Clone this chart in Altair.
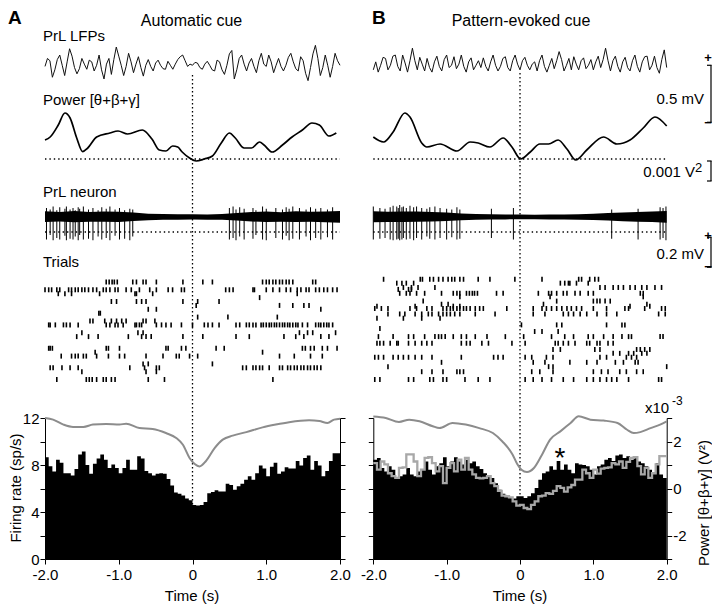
import altair as alt
import numpy as np
import pandas as pd

W, H = 704, 597
FONT = "Liberation Sans"

# ---- pixel layout of sub-plots (chart-local coordinates) ----
XA = [37, 332]
XB = [365.3, 658.7]
Y_LFP = [89.2, 20.8]
Y_POW = [151, 101]
Y_NEU = [239, 194]
Y_RAS = [274, 371.5]
Y_HIST = [551, 410]

LFP_DOM = [-300, 300]   # uV
POW_DOM = [0, 2.5]      # x1e-3 V^2 above baseline
NEU_DOM = [-200, 100]   # uV
RAS_DOM = [0, 25]       # trial row
RATE_DOM = [0, 12]      # sp/s
PWR_DOM = [-3, 3]       # x1e-3 V^2

# ---------------- data ----------------
lfp_a = [-30, 40, 20, -125, -60, 30, 70, -20, -110, 10,
         125, 60, -40, -95, -50, 40, -10, -55, 25, 10,
         -70, -20, 70, -60, -140, -10, 40, -100, 30, 140,
         60, -20, -110, -30, 85, 10, -85, -10, 55, -40,
         -115, -20, 30, -30, -70, 0, 25, -20, -50, -55,
         15, -20, -55, -10, 30, 55, 70, 20, -30, -10,
         -20, 5, 0, -40, -55, -10, 15, -20, -60, -70,
         25, 10, -60, -100, -20, 80, 110, -140, -60, 40,
         70, -10, -70, 0, 40, -30, -85, 20, 85, -10,
         -30, 70, 10, -85, -20, 40, -30, -70, -20, 50,
         85, 10, -50, -70, 55, 20, -90, -155, -40, 80,
         155, 40, -110, -40, 70, -20, -125, -30, 85, 20, -20]
lfp_b = [-60, 10, -80, -20, 50, 40, -60, -20, 60, 70,
         -30, -70, 70, 0, -80, 20, 130, 20, -60, 50,
         -10, -70, 40, -40, -80, 10, 60, -30, -70, 30,
         70, -40, -20, 55, -50, -10, 70, -30, -80, 10,
         45, -60, -20, 20, -40, 45, -30, -70, 10, 70,
         -20, -70, -30, 40, 55, -40, -70, 20, 70, -10,
         -60, 20, 50, -20, -60, -10, 10, -70, 20, 70,
         -30, -80, -20, 40, -50, 20, 100, 30, -70, -20,
         40, -60, 55, -10, -60, 20, 45, -50, -20, 30,
         -60, 10, 60, -40, 30, 130, 20, -70, 20, 60,
         -30, -80, 10, 50, -40, -70, 20, 70, -30, -80,
         10, 55, 60, -60, -20, 60, -40, -90, 30, 115, -40]

pow_a_t = [-2.0, -1.93, -1.82, -1.73, -1.66, -1.57, -1.49, -1.42, -1.30, -1.12,
           -1.01, -0.88, -0.68, -0.55, -0.45, -0.36, -0.27, -0.20, -0.14, -0.04,
           0.05, 0.16, 0.27, 0.39, 0.50, 0.58, 0.70, 0.80, 0.91, 0.97,
           1.08, 1.22, 1.35, 1.49, 1.62, 1.72, 1.85, 1.95]
pow_a_v = [0.95, 1.1, 1.7, 2.3, 2.05, 1.05, 0.37, 0.55, 1.1, 1.3,
           1.4, 1.25, 1.45, 1.0, 0.45, 0.4, 0.65, 0.6, 0.35, 0.05,
           -0.1, 0.0, 0.15, 0.8, 1.3, 1.05, 0.55, 0.55, 0.85, 0.7,
           0.35, 0.7, 1.1, 1.45, 1.8, 1.7, 1.15, 1.3]
pow_b_t = [-2.0, -1.86, -1.73, -1.57, -1.50, -1.34, -1.27, -1.09, -0.86, -0.68,
           -0.57, -0.41, -0.23, -0.11, 0.01, 0.14, 0.27, 0.39, 0.52, 0.64,
           0.76, 0.91, 1.14, 1.32, 1.50, 1.68, 1.84, 2.0]
pow_b_v = [1.1, 0.85, 1.35, 2.3, 2.1, 0.8, 0.6, 0.75, 0.4, 0.85,
           0.8, 0.6, 1.05, 0.6, 0.0, 0.35, 0.75, 0.75, 0.95, 0.5,
           -0.05, 0.45, 1.1, 0.75, 0.95, 1.55, 2.1, 1.65]

band_t = [-2.0, -1.8, -1.6, -1.4, -1.2, -1.0, -0.8, -0.6, -0.4, -0.2, 0.0,
          0.2, 0.4, 0.6, 0.8, 1.0, 1.2, 1.4, 1.6, 1.8, 2.0]
band_a_up = [38, 34, 40, 33, 37, 35, 30, 22, 20, 18, 19, 17, 20, 26, 33, 36, 32, 38, 35, 37, 40]
band_a_lo = [-34, -30, -35, -32, -31, -33, -27, -21, -19, -18, -17, -18, -19, -24, -30, -33, -31, -34, -32, -35, -38]
band_b_up = [38, 35, 37, 36, 33, 30, 24, 20, 18, 17, 16, 15, 16, 17, 19, 22, 26, 30, 34, 36, 40]
band_b_lo = [-35, -33, -34, -32, -30, -27, -22, -19, -17, -16, -15, -15, -16, -16, -18, -20, -24, -28, -31, -34, -38]

spk_a_t = [-1.98, -1.93, -1.89, -1.84, -1.80, -1.73, -1.71, -1.66, -1.62, -1.59,
           -1.55, -1.53, -1.48, -1.41, -1.35, -1.28, -1.23, -1.17, -1.12, -1.05,
           -0.99, -0.92, -0.85, -0.81, 0.50, 0.55, 0.59, 0.64, 0.70, 0.82,
           0.86, 0.95, 1.00, 1.13, 1.22, 1.27, 1.31, 1.36, 1.45, 1.54,
           1.60, 1.67, 1.74, 1.83, 1.90]
spk_a_down = [-150, -120, -155, -140, -150, -125, -155, -145, -150, -130,
              -155, -120, -150, -145, -155, -130, -150, -140, -155, -125,
              -150, -145, -155, -130, -150, -140, -155, -130, -150, -145,
              -120, -150, -155, -140, -150, -125, -155, -145, -150, -130,
              -155, -140, -150, -135, -150]
spk_a_up = [60, 50, 70, 45, 65, 55, 70, 50, 60, 45,
            65, 55, 70, 50, 60, 45, 65, 55, 70, 50,
            60, 45, 55, 50, 60, 70, 50, 65, 55, 60,
            45, 70, 55, 60, 50, 65, 55, 70, 60, 50,
            65, 55, 60, 50, 65]
spk_b_t = [-2.0, -1.91, -1.84, -1.77, -1.73, -1.68, -1.66, -1.64, -1.61, -1.59,
           -1.55, -1.50, -1.45, -1.41, -1.34, -1.27, -1.23, -1.16, -1.09, -1.00,
           -0.93, -0.86, -0.82, -0.39, -0.09, 1.25, 1.61, 1.91, 1.95, 1.99]
spk_b_down = [-150, -145, -140, -150, -155, -150, -145, -155, -150, -140,
              -150, -145, -155, -140, -150, -130, -145, -150, -140, -150,
              -135, -150, -145, -140, -150, -145, -150, -150, -140, -155]
spk_b_up = [70, 60, 55, 65, 75, 70, 60, 80, 65, 70,
            60, 75, 65, 70, 60, 55, 65, 70, 60, 55,
            50, 65, 50, 55, 60, 50, 55, 65, 60, 70]

raster_a = {
    0: [-1.17, -1.13, -1.09, -1.06, -1.02, -0.81, -0.76, -0.67, -0.63, -0.49, -0.13, 0.14, 0.27,
        0.95, 1.0, 1.04, 1.09, 1.13, 1.18, 1.22, 1.27, 1.31, 1.36, 1.63, 1.67],
    2: [-2.0, -1.95, -1.91, -1.84, -1.80, -1.68, -1.64, -1.59, -1.55, -1.50, -1.46, -1.41, -1.35,
        -1.30, -1.21, -1.17, -1.12, -1.05, -1.01, -0.90, -0.83, -0.72, -0.58, -0.49, -0.33, -0.27,
        -0.15, -0.11, 0.45, 0.5, 0.55, 0.82, 0.84, 1.0, 1.09, 1.18, 1.27, 1.33, 1.42, 1.47, 1.54,
        1.58, 1.67, 1.72, 1.78, 1.83, 1.9, 1.96],
    3: [-1.82, -1.73, -1.64, -1.26, -0.78, -0.76, -0.54, 1.42],
    4: [0.91],
    5: [-1.1, -1.03, -0.76, -0.69, -0.63, -0.13, 0.07, 0.36],
    6: [0.05, 1.18, 1.36, 1.51, 1.58],
    7: [-0.6, -0.49, 1.74],
    8: [-1.27, -1.25],
    9: [0.07, 0.48, 1.15],
    10: [-1.39, -1.35, -1.19, -1.1, -1.03, -0.96, -0.9, -0.67, -0.63, -0.51],
    11: [-1.95, -1.93, -1.86, -1.75, -1.71, -1.66, -1.55, -1.17, -1.12, -1.05, -1.01, -0.94, -0.78,
         -0.76, -0.72, -0.69, -0.49, -0.42, -0.36, -0.29, -0.15, 0.0, 0.16, 0.21, 0.27, 0.36, 0.59,
         0.64, 0.73, 0.77, 0.82, 0.86, 0.93, 0.96, 1.0, 1.04, 1.07, 1.11, 1.14, 1.18, 1.22, 1.25,
         1.29, 1.32, 1.36, 1.4, 1.43, 1.49, 1.56, 1.67, 1.71, 1.74, 1.78, 1.82, 1.85, 1.9],
    13: [-1.5, -0.74, -0.67, 1.45, 1.56, 1.63, 1.94],
    14: [-1.57, -1.41, -1.28, -0.87, -0.69, -0.63, -0.56, -0.13, 0.14, 0.59, 0.77, 1.24, 1.4, 1.51,
         1.74, 1.85],
    17: [-1.95, -1.93, -1.9, -1.17, -1.14, -0.99, -0.36, -0.33, -0.15, -0.09, 0.32, 0.43, 1.49, 1.53,
         1.6, 1.65, 1.76, 1.83, 1.96],
    18: [-1.32, 0.95],
    19: [-1.78, -1.64, -1.59, -1.55, -1.48, -1.44, -1.3, -1.14, -0.99, -0.92, -0.63, -0.4, -0.22,
         -0.18, -0.04, 0.07, 1.18, 1.38, 1.6, 1.76],
    21: [-0.67, -0.6, 0.27],
    22: [-1.93, -1.89, -1.77, -1.66, -1.55, -0.85, -0.65, -0.49, -0.45, 0.68, 0.73, 0.82, 0.86, 0.91,
         0.95, 1.04, 1.18, 1.22, 1.29, 1.33, 1.38, 1.42, 1.47, 1.51, 1.56, 1.6, 1.65, 1.69, 1.74],
    23: [-1.5, -0.63, -0.49],
    25: [-1.84, -1.44, -1.4, -1.36, -1.3, -1.21, -1.17, -1.1, -1.05, -0.6, -0.38, 1.09],
}
raster_b = {
    -0.7: [-1.86, -1.36, -1.33, -1.23, -1.18, -1.11, -1.05, -0.98, -0.93, -0.89, -0.82, -0.77, -0.57,
           -0.41, -0.07, 0.30, 0.80, 0.84, 0.95, 1.02, 1.07],
    0.3: [-1.68, -1.61, -1.55, -1.45, 0.55, 0.61, 0.66, 0.68, 0.77, 0.93],
    1.4: [-1.59, -1.48, -1.39, -1.16, 1.09, 1.16, 1.27, 1.34, 1.41, 1.50, 1.57, 1.66, 1.73, 1.84, 1.93],
    1.9: [-1.66, -1.52, -1.48],
    2.9: [-1.64, -1.55, -1.50, -1.41, -1.30, -1.07, -0.91, -0.86, -0.82, -0.73, -0.69, -0.65, -0.62,
          -0.58, -0.32, -0.23, 0.25, 0.39, 0.43, 0.50, 0.59, 0.64, 0.75, 0.82, 0.93, 1.00, 1.64, 1.68],
    3.8: [-0.82, 0.41, 1.68],
    4.9: [-1.32, 0.50, 1.00, 1.05, 1.09, 1.16, 1.23],
    5.7: [-1.07, -0.98, 0.32, 1.73],
    6.2: [-1.95, -1.43, -0.91, -0.82, 1.50, 1.77],
    6.8: [-1.98, -1.89, -1.80, -1.50, -1.41, -1.27, -1.20, -1.05, -1.00, -0.95, -0.91, -0.86, -0.82,
          -0.77, -0.73, -0.68, -0.61, -0.55, -0.50, -0.18, 0.18, 0.30, 0.36, 0.43, 0.50, 0.57, 0.64,
          0.70, 0.77, 0.84, 1.00, 1.18, 1.43, 1.48, 1.70, 1.93, 1.98],
    8.2: [-1.80, -1.64, -1.57, -1.43, -1.34, -1.25, -1.20, -1.11, -1.05, -1.00, -0.95, -0.89, -0.82,
          -0.61, -0.34, 0.18, 0.34, 0.59, 0.66, 0.73, 0.82, 0.91, 1.05, 1.18, 1.32, 1.89, 1.98],
    9.3: [-1.95, -1.59, -1.34, -1.09],
    11.0: [0.02, 0.50, 0.57, 1.18, 1.39, 1.43],
    11.9: [-1.91],
    12.7: [0.20, 0.30, 0.52],
    14.0: [-1.93, -1.73, -1.52, -1.45, -1.30, -1.16, -1.11, -1.07, -1.02, -0.91, -0.80, -0.73, -0.61,
           -0.45, -0.20, 0.05, 0.43, 0.61, 0.73, 0.93, 1.00, 1.14, 1.27, 1.39, 1.48, 1.52, 1.91, 1.95],
    15.7: [-1.95, -1.91, -1.86, -1.77, -1.68, -1.66, -1.52, -1.43, -1.34, -1.27, -1.20, -0.80, -0.73,
           -0.68, -0.52, -0.43, -0.11, 0.07, 0.48, 0.52, 0.59, 0.66, 0.75, 0.91, 0.95, 1.05, 1.09,
           1.20, 1.27],
    17.3: [0.45, 0.55, 1.02, 1.09, 1.59, 1.64, 1.70, 1.77],
    18.3: [1.27, 1.36, 1.48, 1.55, 1.66, 1.73],
    19.3: [-1.98, -1.93, -1.86, -1.73, -1.66, -1.59, -1.52, -1.43, -1.34, -1.20, -0.80, -0.36, -0.30,
           -0.23, 0.07, 0.16, 0.36, 0.45, 1.09, 1.18, 1.45, 1.52, 1.59],
    20.6: [-1.07, 0.18, 0.34, 0.68, 0.91, 1.05, 1.30, 1.41, 1.57, 1.61],
    21.7: [-1.80, 0.39, 0.45, 2.00],
    23.0: [-1.34, -1.20, -1.05, -0.86, -0.82, -0.77, 0.16, 0.27, 0.45, 1.00, 1.11, 1.20, 1.36, 1.45,
           1.59, 1.68],
    25.0: [-1.98, -1.91, -1.52, -1.45, -1.23, -1.18, -1.05, -1.00, -0.75, -0.57, -0.41, 0.07, 0.18,
           0.30, 0.43, 0.59, 0.73, 0.91, 1.00, 1.09, 1.18, 1.25, 1.32, 1.48, 1.89, 1.93],
}

rate_a = [8.65, 7.9, 7.45, 8.45, 8.2, 7.3, 7.3, 7.1, 7.65, 8.9,
          9.15, 8.0, 7.25, 8.1, 8.55, 8.9, 8.45, 7.75, 8.05, 7.75,
          7.3, 7.75, 8.45, 7.6, 7.6, 8.75, 8.55, 7.5, 7.3, 7.1,
          7.25, 7.3, 7.25, 6.8, 6.25, 5.65, 5.55, 5.4, 5.15, 5.0,
          4.6, 4.55, 4.6, 4.85, 5.6, 5.7, 5.85, 5.75, 5.75, 6.4,
          6.3, 5.9, 6.2, 6.4, 6.75, 7.05, 6.75, 7.3, 7.95, 7.7,
          7.05, 7.85, 8.2, 7.25, 7.45, 7.8, 7.7, 7.7, 8.35, 7.95,
          8.6, 8.8, 7.6, 8.35, 7.95, 7.05, 7.5, 8.35, 9.0, 9.0]
rate_b = [8.45, 8.6, 7.75, 7.45, 7.9, 7.6, 6.9, 7.05, 7.2, 7.75,
          7.2, 7.05, 7.45, 7.6, 8.3, 7.6, 7.2, 7.9, 8.15, 8.65,
          7.9, 8.3, 8.65, 8.3, 8.05, 8.45, 8.15, 8.3, 7.9, 7.65,
          7.3, 7.05, 6.9, 6.45, 5.9, 5.55, 5.35, 5.2, 5.15, 5.35,
          5.35, 5.2, 5.35, 5.6, 6.05, 6.75, 7.3, 7.45, 7.9, 7.6,
          8.35, 7.6, 8.05, 7.6, 7.3, 8.15, 8.05, 8.0, 7.9, 7.6,
          7.2, 7.9, 8.05, 8.45, 8.6, 8.35, 8.8, 8.9, 8.6, 8.75,
          8.45, 8.6, 8.3, 8.15, 7.9, 7.6, 7.3, 8.15, 7.2, 6.9]
step_b = [1.08, 0.8, 1.15, 1.03, 0.65, 0.53, 0.45, 0.88, 0.9, 1.45,
          1.45, 1.15, 0.53, 0.8, 1.3, 1.33, 1.08, 0.73, 0.95, 0.23,
          0.88, 1.08, 0.73, 1.23, 0.8, 1.3, 0.8, 0.6, 0.45, 0.43,
          0.45, 0.53, 0.23, 0.1, -0.1, -0.3, -0.33, -0.38, -0.55, -0.73,
          -0.7, -0.83, -0.88, -0.7, -0.55, -0.33, -0.3, -0.2, -0.23, -0.1,
          0.1, 0.03, -0.13, 0.05, 0.15, 0.38, 0.38, 0.8, 0.65, 0.45,
          0.8, 0.63, 0.85, 0.88, 0.9, 1.08, 1.03, 1.15, 0.88, 1.13,
          1.3, 1.33, 0.95, 0.6, 0.88, 0.45, 0.65, 1.03, 1.38, 1.38]

gray_a_t = [-2.0, -1.89, -1.75, -1.62, -1.48, -1.35, -1.17, -0.99, -0.90, -0.72,
            -0.54, -0.36, -0.22, -0.13, -0.04, 0.03, 0.095, 0.18, 0.30, 0.41,
            0.545, 0.73, 0.95, 1.13, 1.31, 1.58, 1.72, 1.83, 1.92, 2.0]
gray_a_v = [3.0, 2.93, 2.72, 2.62, 2.62, 2.72, 2.75, 2.72, 2.76, 2.57,
            2.53, 2.36, 2.15, 1.86, 1.3, 1.04, 0.94, 1.16, 1.72, 2.08,
            2.25, 2.4, 2.6, 2.72, 2.82, 2.9, 2.87, 2.79, 2.93, 2.97]
gray_b_t = [-2.0, -1.83, -1.65, -1.51, -1.37, -1.19, -1.10, -0.92, -0.74, -0.555,
            -0.37, -0.24, -0.10, -0.04, 0.02, 0.095, 0.19, 0.30, 0.41, 0.55,
            0.69, 0.80, 0.96, 1.14, 1.33, 1.46, 1.55, 1.64, 1.78, 1.91, 2.0]
gray_b_v = [3.06, 3.0, 2.83, 2.93, 2.86, 2.65, 2.57, 2.79, 2.72, 2.57,
            2.36, 2.0, 1.44, 1.05, 0.8, 0.7, 0.87, 1.44, 2.08, 2.43,
            2.79, 3.07, 2.93, 2.89, 2.79, 2.5, 2.36, 2.40, 2.57, 2.72, 2.86]

bin_edges = [round(-2 + 0.05 * i, 2) for i in range(80)] + [2.0]
time_ticks = [-2, -1, 0, 1, 2]
rate_ticks = [0, 2, 4, 6, 8, 10, 12]
power_ticks = [-3, -2, -1, 0, 1, 2, 3]


# ---------------- helpers ----------------
def sc(dom, rng):
    return alt.Scale(domain=dom, range=rng, nice=False, zero=False)


def ax(**kw):
    base = dict(grid=False, title=None, domainColor='black', domainWidth=1, tickColor='black',
                tickWidth=1, tickSize=5, labelFont=FONT, labelFontSize=15, labelColor='black',
                labelFlush=False, labelOverlap=False)
    base.update(kw)
    return alt.Axis(**base)


def panel(xr, vtop, lfp, pt, pv, bup, blo, st, sd, su, raster, rate, gt, gv, step, is_a):
    def X(f, axis=None):
        return alt.X(f, type='quantitative', scale=sc([-2, 2], xr), axis=axis)

    def Y(f, dom, rng, axis=None):
        return alt.Y(f, type='quantitative', scale=sc(dom, rng), axis=axis)

    L = []
    # cue onset dotted line
    L.append(alt.Chart(pd.DataFrame({'t': [0.0]})).mark_rule(
        color='black', strokeWidth=1.3, strokeDash=[1.4, 2.6]).encode(
        x=X('t'), y=alt.value(vtop), y2=alt.value(551)))
    # LFP
    d = pd.DataFrame({'t': np.linspace(-2, 2, len(lfp)), 'v': lfp})
    L.append(alt.Chart(d).mark_line(color='#111111', strokeWidth=1.0).encode(
        x=X('t'), y=Y('v', LFP_DOM, Y_LFP)))
    # power trace + baseline
    d = pd.DataFrame({'t': pt, 'v': pv})
    L.append(alt.Chart(d).mark_line(color='black', strokeWidth=1.7, interpolate='monotone').encode(
        x=X('t'), y=Y('v', POW_DOM, Y_POW)))
    d = pd.DataFrame({'t': [-2.0], 't2': [2.0], 'v': [0.0]})
    L.append(alt.Chart(d).mark_rule(color='black', strokeWidth=1.3, strokeDash=[1.4, 3]).encode(
        x=X('t'), x2='t2', y=Y('v', POW_DOM, Y_POW)))
    # neuron trace
    d = pd.DataFrame({'t': band_t, 'u': bup, 'l': blo})
    L.append(alt.Chart(d).mark_area(color='black').encode(
        x=X('t'), y=Y('u', NEU_DOM, Y_NEU), y2='l'))
    d = pd.DataFrame({'t': st, 'z': [0] * len(st), 'd': sd, 'u': su})
    L.append(alt.Chart(d).mark_rule(color='black', strokeWidth=1).encode(
        x=X('t'), y=Y('z', NEU_DOM, Y_NEU), y2='d'))
    L.append(alt.Chart(d).mark_rule(color='black', strokeWidth=1).encode(
        x=X('t'), y=Y('z', NEU_DOM, Y_NEU), y2='u'))
    d = pd.DataFrame({'t': [-2.0], 't2': [2.0], 'v': [-100.0]})
    L.append(alt.Chart(d).mark_rule(color='black', strokeWidth=1.3, strokeDash=[1.4, 3]).encode(
        x=X('t'), x2='t2', y=Y('v', NEU_DOM, Y_NEU)))
    # raster
    rr, tt = [], []
    for r, times in raster.items():
        rr += [r] * len(times)
        tt += times
    d = pd.DataFrame({'t': tt, 'r': rr})
    L.append(alt.Chart(d).mark_tick(orient='vertical', size=5, thickness=1.6, color='black',
                                    opacity=1).encode(
        x=X('t'), y=Y('r', RAS_DOM, Y_RAS)))
    # histogram
    d = pd.DataFrame({'t': bin_edges, 'v': list(rate) + [rate[-1]], 'b': [0.0] * len(bin_edges)})
    xaxis = ax(orient='bottom', offset=-(H - 551), values=time_ticks, labelPadding=3,
               labelExpr="datum.value == 0 ? '0' : (datum.value < 0 ? '-' : '') + format(abs(datum.value), '.1f')")
    if is_a:
        yaxis = ax(orient='left', offset=-xr[0], values=rate_ticks, labelPadding=1,
                   labelExpr="datum.value % 4 == 0 ? datum.label : ''")
        raxis = ax(orient='right', offset=xr[1] - W, values=power_ticks, labels=False)
    else:
        yaxis = ax(orient='left', offset=-xr[0], values=rate_ticks, labels=False)
        raxis = ax(orient='right', offset=xr[1] - W, values=power_ticks, labelPadding=1,
                   labelExpr="datum.value == 2 ? '2' : datum.value == 0 ? '0' : datum.value == -2 ? '-2' : ''")
    L.append(alt.Chart(d).mark_area(color='black', interpolate='step-after').encode(
        x=X('t', xaxis), y=Y('v', RATE_DOM, Y_HIST, yaxis), y2='b'))
    d = pd.DataFrame({'t': gt, 'v': gv})
    L.append(alt.Chart(d).mark_line(color='#8c8c8c', strokeWidth=2, interpolate='monotone').encode(
        x=X('t'), y=Y('v', PWR_DOM, Y_HIST, raxis)))
    if step is not None:
        d = pd.DataFrame({'t': bin_edges, 'v': list(step) + [step[-1]]})
        L.append(alt.Chart(d).mark_line(color='#a8a8a8', strokeWidth=2.3, interpolate='step-after').encode(
            x=X('t'), y=Y('v', PWR_DOM, Y_HIST)))
    return L


def bracket(lo, hi, dom, rng):
    d = pd.DataFrame({'a': [hi], 'b': [lo]})
    v = alt.Chart(d).mark_rule(color='black', strokeWidth=1.2).encode(
        x=alt.value(703), y=alt.Y('a:Q', scale=sc(dom, rng), axis=None), y2='b')
    d2 = pd.DataFrame({'a': [hi, lo]})
    h = alt.Chart(d2).mark_rule(color='black', strokeWidth=1.2).encode(
        x=alt.value(699), x2=alt.value(703.6), y=alt.Y('a:Q', scale=sc(dom, rng), axis=None))
    return [v, h]


def texts(items, size, align='left', weight='normal', angle=0, baseline='alphabetic'):
    d = pd.DataFrame(items, columns=['s', 'x', 'y'])
    return alt.Chart(d).mark_text(font=FONT, fontSize=size, fontWeight=weight, align=align,
                                  angle=angle, baseline=baseline, color='black').encode(
        x=alt.X('x:Q', scale=None, axis=None), y=alt.Y('y:Q', scale=None, axis=None), text='s:N')


layers = []
layers += panel(XA, 67, lfp_a, pow_a_t, pow_a_v, band_a_up, band_a_lo, spk_a_t, spk_a_down, spk_a_up,
                raster_a, rate_a, gray_a_t, gray_a_v, None, True)
layers += panel(XB, 65, lfp_b, pow_b_t, pow_b_v, band_b_up, band_b_lo, spk_b_t, spk_b_down, spk_b_up,
                raster_b, rate_b, gray_b_t, gray_b_v, step_b, False)

# scale bars
layers += bracket(-520, -20, LFP_DOM, Y_LFP)
layers += bracket(-1.1, -0.1, POW_DOM, Y_POW)
layers += bracket(-335, -135, NEU_DOM, Y_NEU)

# text
layers.append(texts([("A", 0, 16), ("B", 364, 16)], 19, weight='bold'))
layers.append(texts([("Automatic cue", 183.5, 18), ("Pattern-evoked cue", 513, 18)], 16, align='center'))
layers.append(texts([("PrL LFPs", 35, 33), ("Power [θ+β+γ]", 35, 97), ("PrL neuron", 35, 189),
                     ("Trials", 35, 259)], 15))
layers.append(texts([("0.5 mV", 696, 96), ("0.2 mV", 696, 251), ("0.001 V", 687, 169)], 15, align='right'))
layers.append(texts([("2", 687, 164)], 13))
layers.append(texts([("+", 700, 54), ("\u2212", 700, 119), ("+", 700, 232), ("\u2212", 700, 263)], 13,
                    align='center', weight='bold'))
layers.append(texts([("Time (s)", 184, 593), ("Time (s)", 512, 593)], 15, align='center'))
layers.append(texts([("Firing rate (sp/s)", 8, 480), ("Power [θ+β+γ] (V²)", 696, 495)], 15,
                    align='center', angle=270, baseline='middle'))
layers.append(texts([("x10", 637, 405)], 15))
layers.append(texts([("-3", 664, 397)], 12))
layers.append(texts([("*", 552, 459)], 28, align='center'))

chart = alt.layer(*layers).resolve_scale(x='independent', y='independent').properties(
    width=W, height=H, padding=0, autosize=alt.AutoSizeParams(type='none')
).configure_view(strokeWidth=0)

chart.save("out.html", embed_options={"renderer": "svg", "actions": False})
